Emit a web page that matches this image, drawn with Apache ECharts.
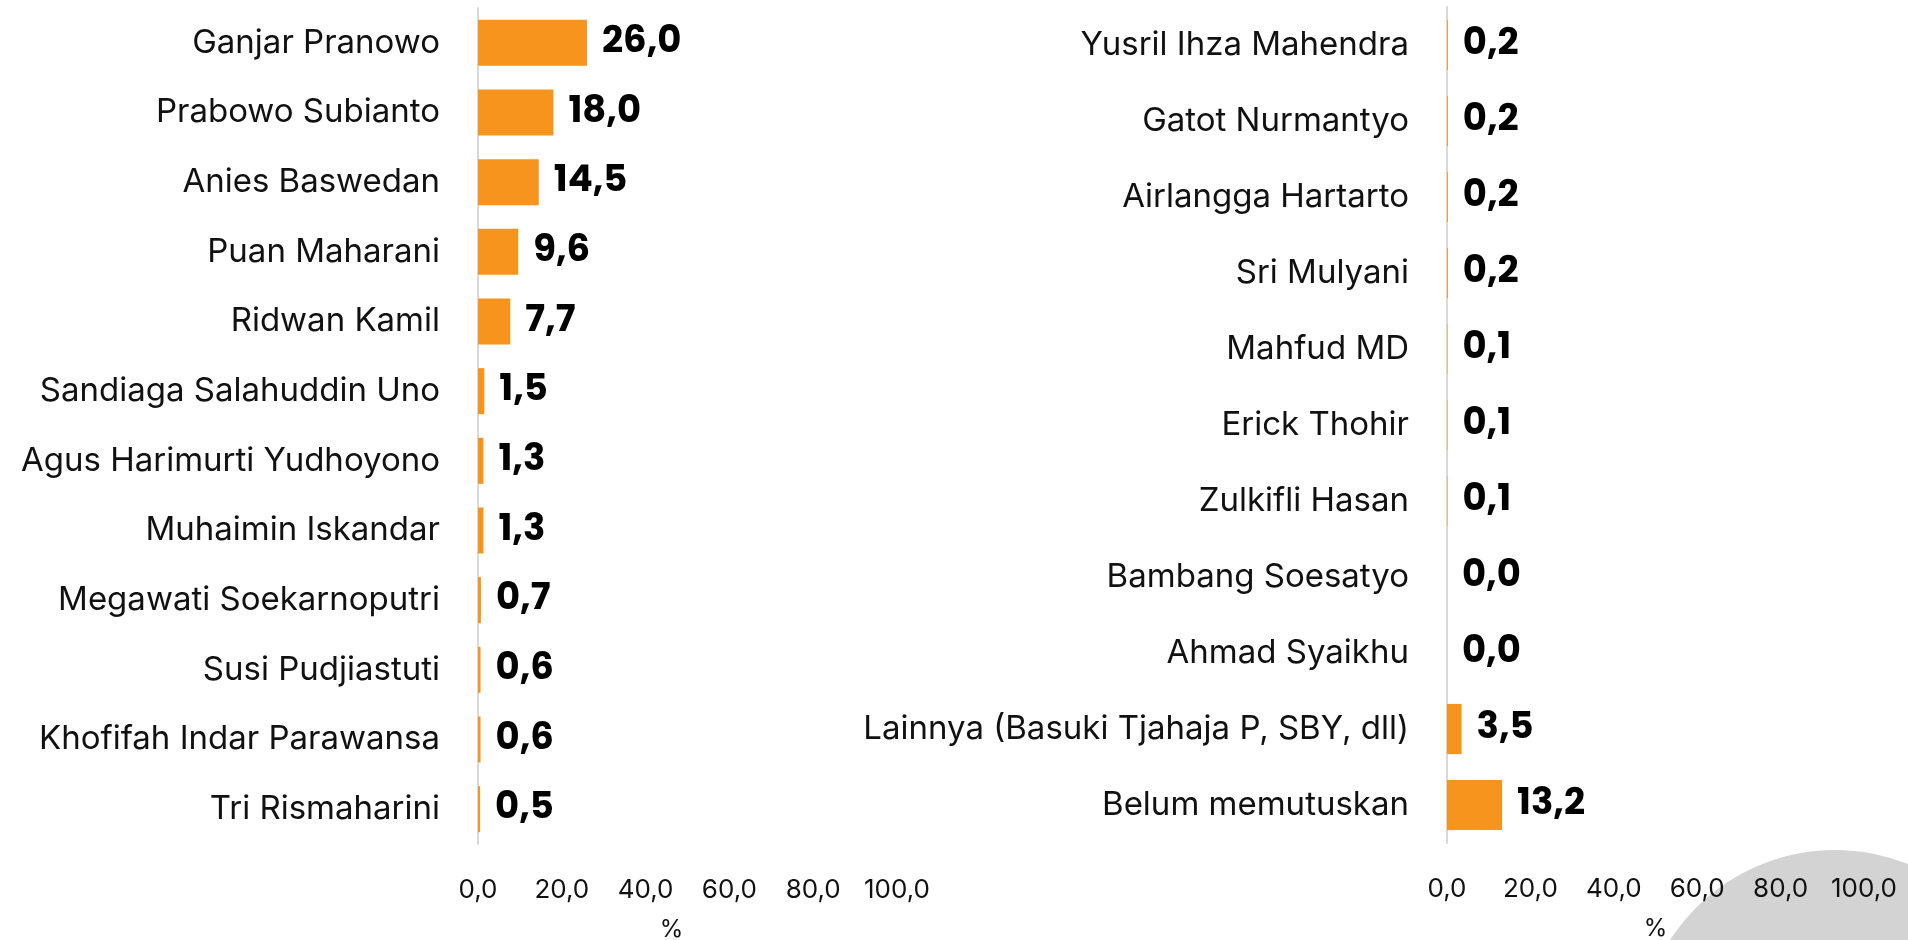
<!DOCTYPE html>
<html lang="id">
<head>
  <meta charset="UTF-8">
  <title>Elektabilitas</title>
  <style>
    * { margin: 0; padding: 0; }
    body { background: #ffffff; }
    #chart { width: 1908px; height: 940px; }
  </style>
</head>
<body>
  <div id="chart"></div>
  <script src="https://cdn.jsdelivr.net/npm/echarts@6/dist/echarts.min.js"></script>
  <script type="text/javascript">
  // kolom kiri
  var namesLeft = ['Ganjar Pranowo', 'Prabowo Subianto', 'Anies Baswedan', 'Puan Maharani', 'Ridwan Kamil',
    'Sandiaga Salahuddin Uno', 'Agus Harimurti Yudhoyono', 'Muhaimin Iskandar', 'Megawati Soekarnoputri',
    'Susi Pudjiastuti', 'Khofifah Indar Parawansa', 'Tri Rismaharini'];
  var valuesLeft = [26.0, 18.0, 14.5, 9.6, 7.7, 1.5, 1.3, 1.3, 0.7, 0.6, 0.6, 0.5];

  // kolom kanan
  var namesRight = ['Yusril Ihza Mahendra', 'Gatot Nurmantyo', 'Airlangga Hartarto', 'Sri Mulyani', 'Mahfud MD',
    'Erick Thohir', 'Zulkifli Hasan', 'Bambang Soesatyo', 'Ahmad Syaikhu',
    'Lainnya (Basuki Tjahaja P, SBY, dll)', 'Belum memutuskan'];
  var valuesRight = [0.2, 0.2, 0.2, 0.2, 0.1, 0.1, 0.1, 0.0, 0.0, 3.5, 13.2];

  var axisTicks = [0, 20, 40, 60, 80, 100];

  var FONT = 'Inter';
  function comma (v) { return Number(v).toFixed(1).replace('.', ','); }

  function xAxisOf (idx, namePad) {
    return {
      gridIndex: idx, type: 'value',
      min: axisTicks[0], max: axisTicks[axisTicks.length - 1], interval: axisTicks[1] - axisTicks[0],
      name: '%', nameLocation: 'middle', nameGap: 74,
      nameTextStyle: { fontFamily: FONT, fontSize: 24, color: '#111', padding: namePad },
      axisLine: { show: false }, axisTick: { show: false }, splitLine: { show: false },
      axisLabel: { formatter: comma, fontFamily: FONT, fontSize: 26, color: '#111', margin: 33 }
    };
  }

  function yAxisOf (idx, names) {
    return {
      gridIndex: idx, type: 'category', inverse: true, data: names,
      axisLine: { show: true, lineStyle: { color: '#d9d9d9', width: 2 } },
      axisTick: { show: false },
      axisLabel: { fontFamily: FONT, fontSize: 33, color: '#111', margin: 38 }
    };
  }

  function barOf (idx, values) {
    return {
      type: 'bar', xAxisIndex: idx, yAxisIndex: idx, data: values,
      barWidth: '66%',
      itemStyle: { color: '#f7941d' },
      label: {
        show: true, position: 'right', distance: 15,
        formatter: function (p) { return comma(p.value); },
        fontFamily: 'Poppins, ' + FONT, fontWeight: 'bold', fontSize: 37, color: '#000'
      }
    };
  }

  function main () {
    var chart = echarts.init(document.getElementById('chart'));
    chart.setOption({
      animation: false,
      grid: [
        { left: 478, top: 8, width: 419, height: 836, outerBoundsMode: 'none', containLabel: false },
        { left: 1447, top: 7, width: 417, height: 836, outerBoundsMode: 'none', containLabel: false }
      ],
      xAxis: [xAxisOf(0, [0, 32, 0, 0]), xAxisOf(1, 0)],
      yAxis: [yAxisOf(0, namesLeft), yAxisOf(1, namesRight)],
      series: [barOf(0, valuesLeft), barOf(1, valuesRight)],
      graphic: [{
        type: 'circle', z: -1,
        shape: { cx: 1835, cy: 1046, r: 196 },
        style: { fill: '#d3d3d3' }
      }]
    });
  }

  window.addEventListener('load', main);
  </script>
</body>
</html>
